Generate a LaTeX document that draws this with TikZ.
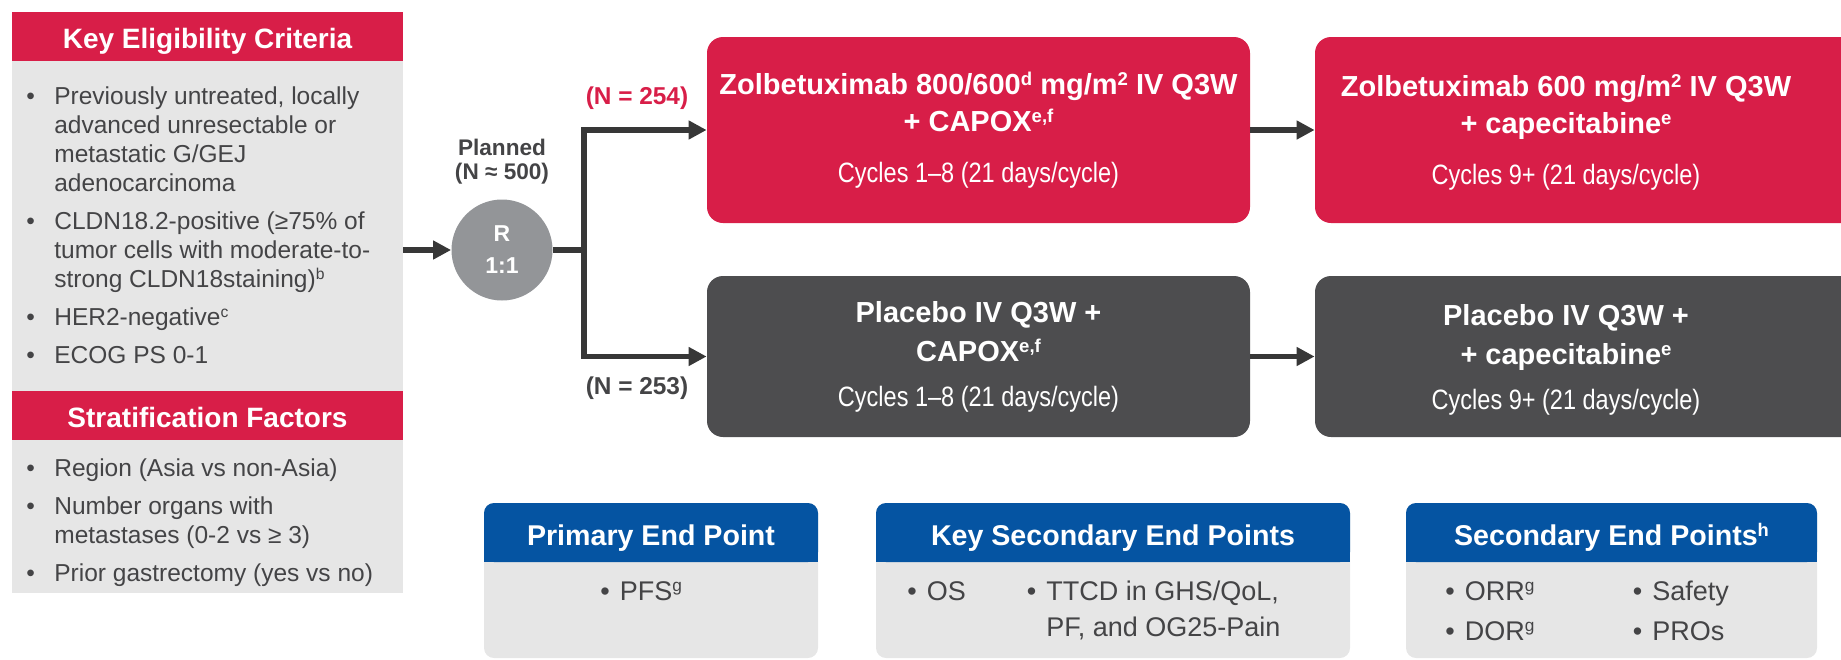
\documentclass[tikz,border=0pt]{standalone}
\usepackage{fontspec}
\usepackage{graphicx}
\setmainfont{Liberation Sans}
\newfontfamily\narrowsf{Liberation Sans}[FakeStretch=0.84]
\usetikzlibrary{arrows.meta,positioning}

\definecolor{zred}{RGB}{216,30,72}
\definecolor{dgrey}{RGB}{77,77,79}
\definecolor{rgrey}{RGB}{147,149,152}
\definecolor{lgrey}{RGB}{230,230,230}
\definecolor{epblue}{RGB}{5,84,162}
\definecolor{txt}{RGB}{68,68,70}
\definecolor{arrowc}{RGB}{55,55,55}

\newcommand\sps[1]{\raisebox{0.3em}{\scalebox{0.64}{#1}}}

\begin{document}
\begin{tikzpicture}[x=0.5pt,y=-0.5pt,>={Triangle[length=9pt,width=9pt]}]
\tikzstyle{hd}=[fill=zred,text=white,inner sep=0pt,minimum width=195.5pt,minimum height=24.5pt,text height=13pt,text depth=1pt,font=\bfseries\fontsize{14}{16}\selectfont]
\tikzstyle{bd}=[fill=lgrey,inner sep=0pt,minimum width=195.5pt]
\tikzstyle{lst}=[anchor=base west,inner sep=0pt,text=txt,font=\fontsize{12.25}{14.5}\selectfont]
\tikzstyle{arm}=[rounded corners=8pt,inner sep=0pt,minimum width=271.5pt,text=white,align=center,font=\bfseries\fontsize{14.5}{16.5}\selectfont]
\tikzstyle{con}=[draw=arrowc,line width=2.6pt]
\tikzstyle{nlab}=[inner sep=0pt,font=\bfseries\fontsize{12.2}{14}\selectfont]
\tikzstyle{ep}=[fill=lgrey,rounded corners=5pt,minimum height=77.5pt,inner sep=0pt]
\tikzstyle{ephd}=[fill=epblue,rounded corners=5pt,minimum height=29.5pt,inner sep=0pt,text height=14pt,text depth=1.3pt,text=white,font=\bfseries\fontsize{14.3}{16}\selectfont]
\tikzstyle{eplst}=[anchor=base west,inner sep=0pt,text=txt,font=\fontsize{13.5}{18}\selectfont]

\useasboundingbox (0,0) rectangle (1841,659);

% left panel
\node[hd] (elig) at (207.5,36.5) {Key Eligibility Criteria};
\node[bd,minimum height=165pt] (crit) at (207.5,226) {};
\node[hd] (strat) at (207.5,415.5) {Stratification Factors};
\node[bd,minimum height=76.5pt] (fact) at (207.5,516.5) {};
\node[lst] (critlist) at (26,104) {\begin{tabular}[t]{@{}l@{\hspace{9.7pt}}l@{}}
\textbullet & Previously untreated, locally\\
 & advanced unresectable or\\
 & metastatic G/GEJ\\
 & adenocarcinoma\\[4.5pt]
\textbullet & CLDN18.2-positive (≥75\% of\\
 & tumor cells with moderate-to-\\
 & strong CLDN18staining)\sps{b}\\[4.5pt]
\textbullet & HER2-negative\sps{c}\\[4.5pt]
\textbullet & ECOG PS 0-1
\end{tabular}};
\node[lst] (factlist) at (26,476) {\begin{tabular}[t]{@{}l@{\hspace{9.7pt}}l@{}}
\textbullet & Region (Asia vs non-Asia)\\[4.5pt]
\textbullet & Number organs with\\
 & metastases (0-2 vs ≥ 3)\\[4.5pt]
\textbullet & Prior gastrectomy (yes vs no)
\end{tabular}};

% randomisation
\node[circle,fill=rgrey,minimum size=50.5pt,inner sep=0pt,text=white,align=center,font=\bfseries\fontsize{11.5}{16}\selectfont] (rand) at (502,250) {R\\1:1};
\node[align=center,text=txt,inner sep=0pt,font=\bfseries\fontsize{11.3}{12}\selectfont] (plan) at (502,162) {Planned\\(N ≈ 500)};
\coordinate (split) at (584,250);

% treatment arms
\node[arm,fill=zred,minimum height=93pt] (zolb1) at (978.5,130) {Zolbetuximab 800/600\sps{d} mg/m\sps{2} IV Q3W\\[2pt]
+ CAPOX\sps{e,f}\\[9pt]
\narrowsf\mdseries\fontsize{14}{16.5}\selectfont Cycles 1–8 (21 days/cycle)};
\node[arm,fill=zred,minimum width=282.5pt,minimum height=93pt] (zolb2) at (1597.5,130) {};
\node[arm] (zolb2txt) at (1566,132.5) {Zolbetuximab 600 mg/m\sps{2} IV Q3W\\[2pt]
+ capecitabine\sps{e}\\[9pt]
\narrowsf\mdseries\fontsize{14}{16.5}\selectfont Cycles 9+ (21 days/cycle)};
\node[arm,fill=dgrey,minimum height=80.5pt] (pbo1) at (978.5,356.5) {Placebo IV Q3W +\\[3pt]
CAPOX\sps{e,f}\\[6pt]
\narrowsf\mdseries\fontsize{14}{16.5}\selectfont Cycles 1–8 (21 days/cycle)};
\node[arm,fill=dgrey,minimum width=282.5pt,minimum height=80.5pt] (pbo2) at (1597.5,356.5) {};
\node[arm] (pbo2txt) at (1566,360) {Placebo IV Q3W +\\[3pt]
+ capecitabine\sps{e}\\[6pt]
\narrowsf\mdseries\fontsize{14}{16.5}\selectfont Cycles 9+ (21 days/cycle)};

\node[nlab,text=zred] (n1) at (637,98) {(N = 254)};
\node[nlab,text=txt] (n2) at (637,388) {(N = 253)};

\draw[con,->] (crit.east |- rand.west) -- (rand.west);
\draw[con] (rand.east) -- (split);
\draw[con,->] (split) |- (zolb1.west);
\draw[con,->] (split) |- (pbo1.west);
\draw[con,->] (zolb1) -- (zolb2);
\draw[con,->] (pbo1) -- (pbo2);

% end points
\node[ep,minimum width=167pt] (pep) at (651,580.5) {};
\fill[epblue] ([yshift=-15pt]pep.north west) rectangle ([yshift=-29.5pt]pep.north east);
\node[ephd,minimum width=167pt] (pephd) at (651,532.5) {Primary End Point};
\node[eplst] (peplist) at (600,600) {\textbullet\hspace{5pt}PFS\sps{g}};

\node[ep,minimum width=237pt] (ksep) at (1113,580.5) {};
\fill[epblue] ([yshift=-15pt]ksep.north west) rectangle ([yshift=-29.5pt]ksep.north east);
\node[ephd,minimum width=237pt] (ksephd) at (1113,532.5) {Key Secondary End Points};
\node[eplst] (kseplist) at (907,600) {\begin{tabular}[t]{@{}l@{\hspace{5pt}}p{38pt}l@{\hspace{5pt}}l@{}}
\textbullet & OS & \textbullet & TTCD in GHS/QoL,\\
 & & & PF, and OG25-Pain
\end{tabular}};

\node[ep,minimum width=205.5pt] (sep) at (1611.5,580.5) {};
\fill[epblue] ([yshift=-15pt]sep.north west) rectangle ([yshift=-29.5pt]sep.north east);
\node[ephd,minimum width=205.5pt] (sephd) at (1611.5,532.5) {Secondary End Points\sps{h}};
\node[eplst] (seplist) at (1445,600) {\begin{tabular}[t]{@{}l@{\hspace{5pt}}p{72pt}l@{\hspace{5pt}}l@{}}
\textbullet & ORR\sps{g} & \textbullet & Safety\\[2pt]
\textbullet & DOR\sps{g} & \textbullet & PROs
\end{tabular}};
\end{tikzpicture}
\end{document}
